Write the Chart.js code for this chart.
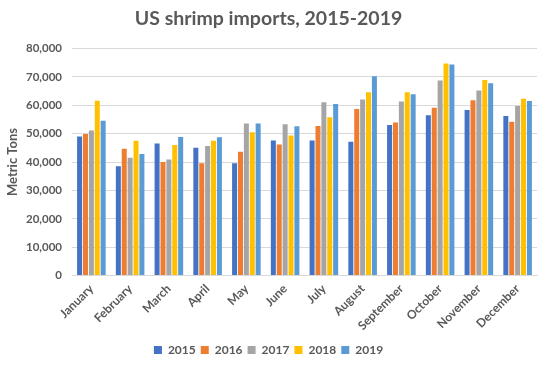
<!DOCTYPE html>
<html>
<head>
<meta charset="utf-8">
<script src="https://cdn.jsdelivr.net/npm/chart.js@4/dist/chart.umd.min.js"></script>
<style>
html,body{margin:0;padding:0;background:#fff;}
#wrap{width:550px;height:366px;position:relative;}
</style>
</head>
<body>
<div id="wrap"><canvas id="c" width="550" height="366"></canvas></div>
<script>
const months = ["January","February","March","April","May","June","July","August","September","October","November","December"];
const years = ["2015","2016","2017","2018","2019"];
const v2015 = [49000,38500,46500,45000,39600,47600,47600,47100,53000,56500,58300,56200];
const v2016 = [49900,44700,40000,39600,43600,46200,52700,58700,53900,59100,61700,54200];
const v2017 = [51100,41500,40900,45600,53600,53300,61000,62000,61300,68700,65200,59700];
const v2018 = [61600,47500,46000,47500,50500,49300,55800,64600,64600,74700,68900,62300];
const v2019 = [54500,42800,48800,48700,53600,52600,60400,70200,63900,74300,67700,61500];
const yTicks = [0,10000,20000,30000,40000,50000,60000,70000,80000];
const colors = ["#4472C4","#ED7D31","#A5A5A5","#FFC000","#5B9BD5"];
const series = [v2015,v2016,v2017,v2018,v2019];

const FONT = "Lato, 'Open Sans', sans-serif";
const GREY = "#595959";

new Chart(document.getElementById('c'), {
  type: 'bar',
  data: {
    labels: months,
    datasets: years.map((y,i)=>({
      label: y,
      data: series[i],
      backgroundColor: colors[i],
      borderWidth: 0,
      barPercentage: 0.85,
      categoryPercentage: 0.76
    }))
  },
  options: {
    responsive: false,
    animation: false,
    devicePixelRatio: 1,
    layout: { padding: { left: 0, right: 13, top: 7, bottom: 0 } },
    plugins: {
      title: {
        display: true,
        text: "US shrimp imports, 2015-2019",
        color: GREY,
        font: { family: FONT, size: 19.5, weight: 'bold' },
        padding: { top: 0, bottom: 18 }
      },
      legend: {
        position: 'bottom',
        labels: {
          color: GREY,
          font: { family: FONT, size: 12, weight: 'bold' },
          boxWidth: 8, boxHeight: 8,
          padding: 5
        }
      },
      tooltip: { enabled: false }
    },
    scales: {
      x: {
        grid: { display: false, drawTicks: false },
        border: { display: true, color: "#d9d9d9" },
        ticks: {
          color: GREY,
          font: { family: FONT, size: 12, weight: 'bold' },
          maxRotation: 45, minRotation: 45,
          padding: 6
        }
      },
      y: {
        min: 0, max: 80000,
        afterBuildTicks: (s) => { s.ticks = yTicks.map(v => ({ value: v })); },
        afterFit: (s) => { s.width = 72; },
        grid: { color: "#d9d9d9", drawTicks: false },
        border: { display: false },
        ticks: {
          color: GREY,
          font: { family: FONT, size: 11.5, weight: 'bold' },
          padding: 10,
          callback: (v) => Number(v).toLocaleString('en-US')
        },
        title: {
          display: true,
          text: "Metric Tons",
          color: GREY,
          font: { family: FONT, size: 13, weight: 'bold' },
          padding: { top: 5, bottom: 4 }
        }
      }
    }
  }
});
</script>
</body>
</html>
